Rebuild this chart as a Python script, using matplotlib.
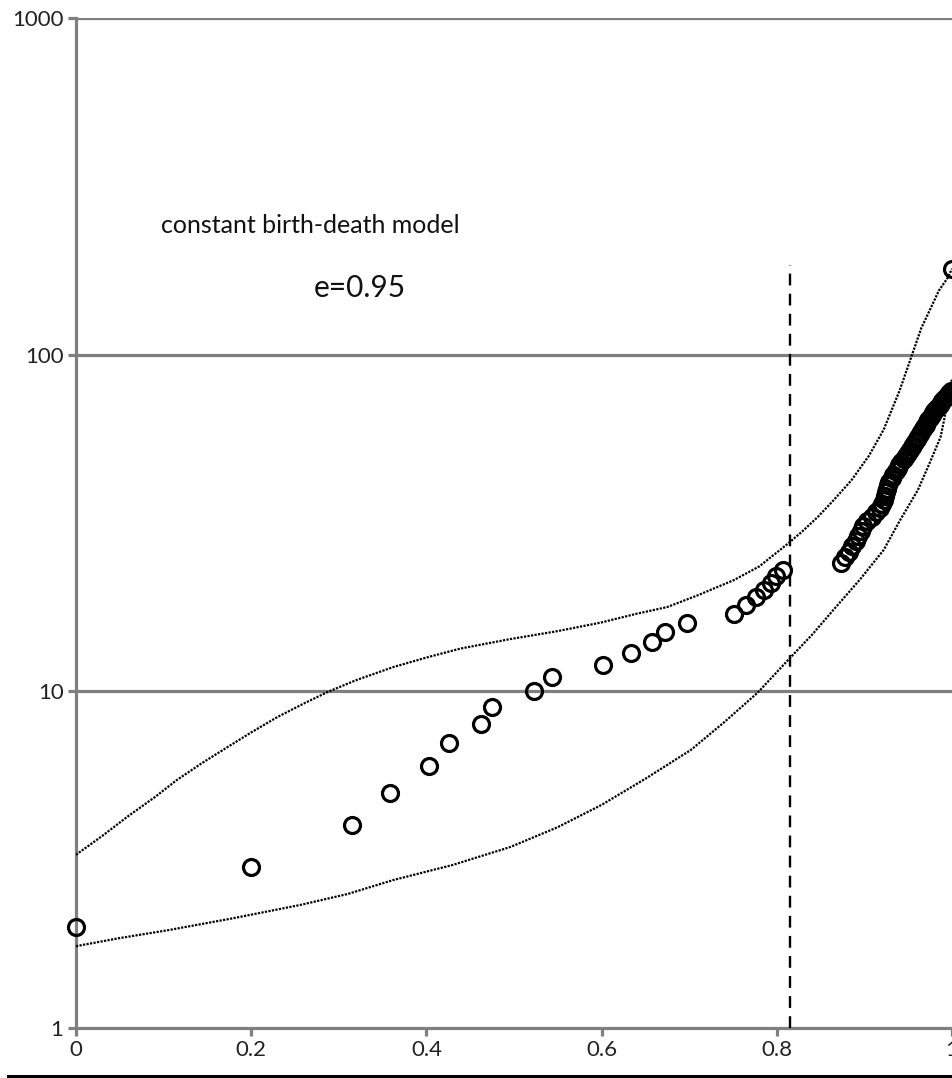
import matplotlib
matplotlib.use("Agg")
import matplotlib.pyplot as plt
from matplotlib.lines import Line2D

# ---- data ----
obs_x = [0.0, 0.200, 0.315, 0.359, 0.403, 0.426, 0.462, 0.475, 0.523, 0.543,
         0.602, 0.634, 0.658, 0.672, 0.697, 0.751, 0.765, 0.776, 0.785, 0.793,
         0.799, 0.807,
         0.873, 0.878, 0.882, 0.886, 0.890, 0.893, 0.896, 0.898, 0.903, 0.909,
         0.913, 0.918, 0.920, 0.922, 0.924, 0.925, 0.926, 0.927, 0.928, 0.931,
         0.933, 0.936, 0.938, 0.940, 0.942, 0.945, 0.947, 0.950, 0.952, 0.954,
         0.956, 0.958, 0.960, 0.961, 0.963, 0.965, 0.967, 0.968, 0.970, 0.971,
         0.973, 0.975, 0.977, 0.978, 0.980, 0.982, 0.984, 0.986, 0.988, 0.989,
         0.991, 0.993, 0.995, 0.997, 0.999, 1.000]
obs_y = [2, 3, 4, 5, 6, 7, 8, 9, 10, 11,
         12, 13, 14, 15, 16, 17, 18, 19, 20, 21,
         22, 23,
         24, 25, 26, 27, 28, 29, 30, 31, 32, 33,
         34, 35, 36, 37, 38, 39, 40, 41, 42, 43,
         44, 45, 46, 47, 48, 49, 50, 51, 52, 53,
         54, 55, 56, 57, 58, 59, 60, 61, 62, 63,
         64, 65, 66, 67, 68, 69, 70, 71, 72, 73,
         74, 75, 76, 77, 78, 180]

upper_x = [0.0, 0.03, 0.058, 0.09, 0.115, 0.145, 0.173, 0.20, 0.230, 0.26,
           0.287, 0.32, 0.362, 0.40, 0.439, 0.496, 0.55, 0.599, 0.64, 0.675,
           0.71, 0.751, 0.78, 0.813, 0.83, 0.847, 0.865, 0.885, 0.905, 0.922,
           0.94, 0.955, 0.965, 0.976, 0.985, 0.995, 1.0]
upper_y = [3.27, 3.72, 4.23, 4.85, 5.45, 6.15, 6.83, 7.55, 8.39, 9.2,
           9.95, 10.8, 11.8, 12.6, 13.4, 14.3, 15.1, 16.0, 17.0, 17.8,
           19.3, 21.4, 23.5, 27.5, 30.0, 33.0, 37.0, 42.3, 50.0, 59.9,
           78.0, 101, 120, 138, 155, 169, 180]

lower_x = [0.0, 0.05, 0.104, 0.18, 0.256, 0.31, 0.362, 0.43, 0.496, 0.55,
           0.600, 0.65, 0.702, 0.74, 0.778, 0.813, 0.84, 0.865, 0.895, 0.922,
           0.94, 0.961, 0.975, 0.987, 0.995, 1.0]
lower_y = [1.75, 1.85, 1.95, 2.12, 2.32, 2.5, 2.75, 3.05, 3.45, 3.95,
           4.6, 5.5, 6.7, 8.1, 9.9, 12.4, 14.7, 17.5, 21.5, 26.3,
           32.0, 39.6, 48.0, 57.0, 72.0, 85.0]

cut_x = 0.815
cut_top = 185

x_ticks = [0, 0.2, 0.4, 0.6, 0.8, 1.0]
x_tick_labels = ["0", "0.2", "0.4", "0.6", "0.8", "1"]
y_ticks = [1, 10, 100, 1000]
y_tick_labels = ["1", "10", "100", "1000"]

title_text = "constant birth-death model"
sub_text = "e=0.95"

# ---- plot ----
plt.rcParams['font.family'] = ['Lato', 'DejaVu Sans']
W, H = 953, 1078
fig = plt.figure(figsize=(W / 100, H / 100), dpi=100)
ax = fig.add_axes([76 / W, 50 / H, 876 / W, 1010 / H])

grey = '#7f7f7f'
ax.set_yscale('log')
ax.set_xlim(0, 1.0)
ax.set_ylim(1, 1000)

for yv in y_ticks[1:]:
    ax.axhline(yv, color=grey, lw=2.3, zorder=1)

ax.plot(upper_x, upper_y, color='black', lw=1.6, linestyle=(0, (1, 0.6)), zorder=2)
ax.plot(lower_x, lower_y, color='black', lw=1.6, linestyle=(0, (1, 0.6)), zorder=2)
ax.vlines(cut_x, 1, cut_top, colors='black', lw=1.7, linestyles=(0, (5, 3.5)), zorder=2)

ax.plot(obs_x, obs_y, linestyle='none', marker='o', markersize=11.5,
        markerfacecolor='none', markeredgecolor='black', markeredgewidth=2.3,
        zorder=3, clip_on=False)

for s in ['top', 'right']:
    ax.spines[s].set_visible(False)
for s in ['left', 'bottom']:
    ax.spines[s].set_color(grey)
    ax.spines[s].set_linewidth(2.3)
    ax.spines[s].set_zorder(1.5)

ax.set_xticks(x_ticks)
ax.set_xticklabels(x_tick_labels)
ax.set_yticks(y_ticks)
ax.set_yticklabels(y_tick_labels)
ax.yaxis.set_minor_locator(matplotlib.ticker.NullLocator())
ax.tick_params(axis='both', which='major', direction='out', length=6, width=2.3,
               color=grey, labelsize=16, labelcolor='#222222', pad=3)

ax.text(0.267, 0.795, title_text, transform=ax.transAxes, fontsize=18,
        ha='center', va='center', color='#111111')
ax.text(0.324, 0.733, sub_text, transform=ax.transAxes, fontsize=21.5,
        ha='center', va='center', color='#111111')

fig.add_artist(Line2D([8 / W, 1.0], [1 - 1076 / H, 1 - 1076 / H],
                      color='black', lw=2.2, transform=fig.transFigure))

fig.savefig('out.png', dpi=100)
